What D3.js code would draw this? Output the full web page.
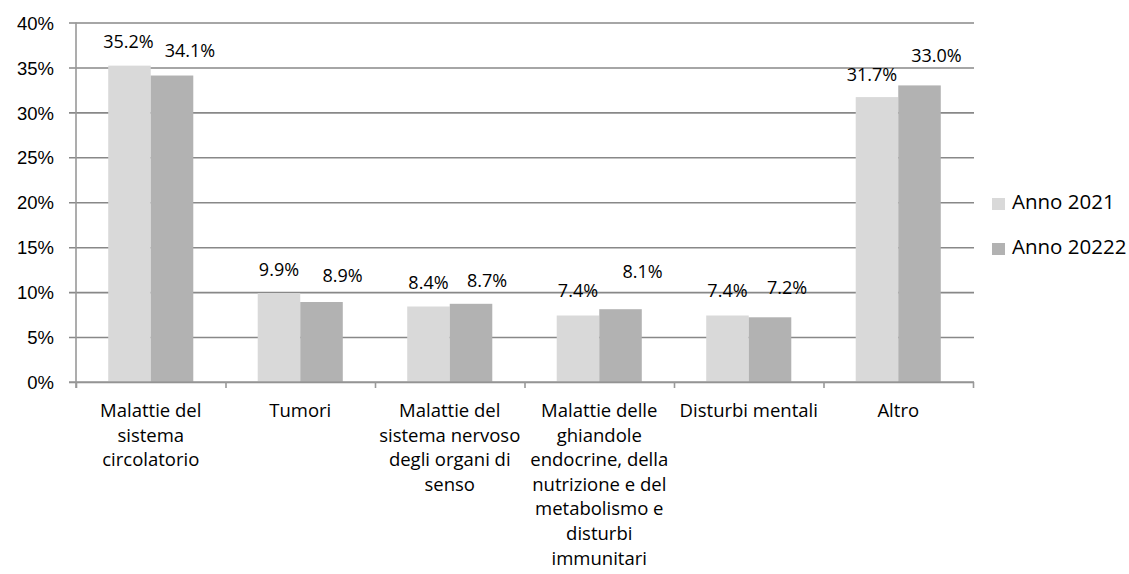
<!DOCTYPE html>
<html>
<head>
<meta charset="utf-8">
<script src="https://cdn.jsdelivr.net/npm/d3@7"></script>
<style>
  html, body { margin: 0; padding: 0; background: #fff; }
  svg { display: block; font-family: "Open Sans", "DejaVu Sans", sans-serif; }
</style>
</head>
<body>
<svg id="chart" width="1129" height="574"></svg>
<script>
// Categories (each entry is the wrapped label, one string per line)
const categories = [
  ["Malattie del", "sistema", "circolatorio"],
  ["Tumori"],
  ["Malattie del", "sistema nervoso", "degli organi di", "senso"],
  ["Malattie delle", "ghiandole", "endocrine, della", "nutrizione e del", "metabolismo e", "disturbi", "immunitari"],
  ["Disturbi mentali"],
  ["Altro"]
];
const seriesNames = ["Anno 2021", "Anno 20222"];
const values2021 = [35.2, 9.9, 8.4, 7.4, 7.4, 31.7];
const values2022 = [34.1, 8.9, 8.7, 8.1, 7.2, 33.0];
const yTicks = [0, 5, 10, 15, 20, 25, 30, 35, 40];

// Hand-placed label nudges [dx, dy] per series, per category
const labelNudge2021 = [[-1, 0], [0, 1], [0, 0], [0, 0], [0, 0], [-5, 2]];
const labelNudge2022 = [[18, -1], [21, -2], [16, 1], [22, -13], [17, -5], [17, -5]];

const colors = ["#d9d9d9", "#b2b2b2"];
const series = [
  { name: seriesNames[0], values: values2021, nudge: labelNudge2021, color: colors[0] },
  { name: seriesNames[1], values: values2022, nudge: labelNudge2022, color: colors[1] }
];

const svg = d3.select("#chart");
const plot = { left: 76, right: 973, top: 22.5, bottom: 382, gridLeft: 69, gridRight: 974 };

const catKeys = categories.map(c => c.join(" "));
const x0 = d3.scaleBand().domain(catKeys).range([plot.left, plot.right])
  .paddingInner(0.431).paddingOuter(0.2155);
const x1 = d3.scaleBand().domain(seriesNames).range([0, x0.bandwidth()]);
const y = d3.scaleLinear().domain([0, 40]).range([plot.bottom, plot.top]);

// Horizontal gridlines and y tick labels
const yAxis = d3.axisLeft(y)
  .tickValues(yTicks)
  .tickSize(plot.gridRight - plot.gridLeft)
  .tickPadding(15)
  .tickFormat(d => d + "%");
const gy = svg.append("g")
  .attr("transform", `translate(${plot.gridRight},0)`)
  .call(yAxis);
gy.select(".domain").remove();
gy.selectAll(".tick line").attr("stroke", "#888").attr("stroke-width", 1.6);
gy.selectAll(".tick text")
  .attr("fill", "#000")
  .style("font-size", "18.5px")
  .attr("dy", "0.36em");

// Bars
const groups = svg.append("g").selectAll("g")
  .data(catKeys)
  .join("g")
  .attr("transform", d => `translate(${x0(d)},0)`);

series.forEach(s => {
  groups.append("rect")
    .attr("x", x1(s.name))
    .attr("width", x1.bandwidth())
    .attr("y", (d, i) => y(s.values[i]))
    .attr("height", (d, i) => y(0) - y(s.values[i]))
    .attr("fill", s.color);
});

// Value labels above bars
series.forEach(s => {
  groups.append("text")
    .attr("x", (d, i) => x1(s.name) + x1.bandwidth() / 2 + s.nudge[i][0])
    .attr("y", (d, i) => y(s.values[i]) - 18 + s.nudge[i][1])
    .attr("text-anchor", "middle")
    .style("font-size", "18px")
    .attr("fill", "#000")
    .text((d, i) => s.values[i].toFixed(1) + "%");
});

// Y axis line
svg.append("line")
  .attr("x1", plot.left).attr("x2", plot.left)
  .attr("y1", y(40)).attr("y2", y(0) + 6)
  .attr("stroke", "#999").attr("stroke-width", 1.6);

// X axis with tick marks at category boundaries
const xEdges = d3.scaleLinear().domain([0, categories.length]).range([plot.left, plot.right]);
const gx = svg.append("g")
  .attr("transform", `translate(0,${plot.bottom})`)
  .call(d3.axisBottom(xEdges).ticks(categories.length).tickSize(6).tickFormat(""));
gx.select(".domain").remove();
gx.selectAll(".tick line").attr("stroke", "#999").attr("stroke-width", 1.6);
svg.append("line")
  .attr("x1", plot.gridLeft).attr("x2", plot.gridRight)
  .attr("y1", plot.bottom).attr("y2", plot.bottom)
  .attr("stroke", "#999").attr("stroke-width", 1.6);

// Category labels
const lineH = 24.6;
groups.append("text")
  .attr("text-anchor", "middle")
  .style("font-size", "18.5px")
  .attr("fill", "#000")
  .each(function(d, i) {
    d3.select(this).selectAll("tspan")
      .data(categories[i])
      .join("tspan")
      .attr("x", x0.bandwidth() / 2)
      .attr("y", (t, j) => 417 + j * lineH)
      .text(t => t);
  });

// Legend
const legend = svg.append("g").selectAll("g")
  .data(series)
  .join("g")
  .attr("transform", (d, i) => `translate(992,${198 + i * 45})`);
legend.append("rect")
  .attr("width", 13).attr("height", 12)
  .attr("fill", d => d.color);
legend.append("text")
  .attr("x", 20).attr("y", 11)
  .style("font-size", "20.5px")
  .attr("fill", "#000")
  .text(d => d.name);
</script>
</body>
</html>
